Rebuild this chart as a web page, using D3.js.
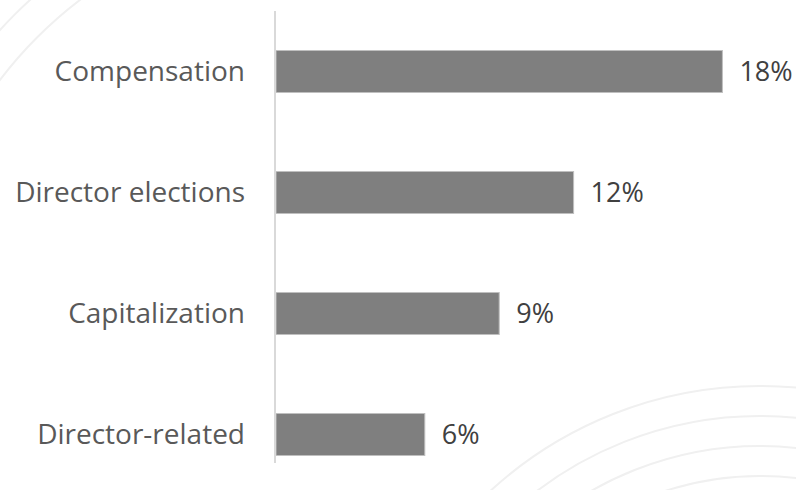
<!DOCTYPE html>
<html>
<head>
<meta charset="utf-8">
<script src="https://cdn.jsdelivr.net/npm/d3@7"></script>
<style>
  body { margin: 0; background: #fff; }
  svg text { font-family: "Open Sans", sans-serif; }
</style>
</head>
<body>
<div id="main"></div>
<script>
// chart values
const categories = ["Compensation", "Director elections", "Capitalization", "Director-related"];
const values = [18, 12, 9, 6];
const valueLabels = ["18%", "12%", "9%", "6%"];

const ctx = {
    width: 796,
    height: 490,
    axisX: 275,
    axisTop: 11,
    axisBottom: 463,
    fontSize: "28px"
};

function createViz() {
    const svg = d3.select("#main").append("svg")
        .attr("width", ctx.width)
        .attr("height", ctx.height);

    const defs = svg.append("defs");
    defs.append("clipPath").attr("id", "clip-tl")
        .append("rect").attr("x", 0).attr("y", 0).attr("width", 160).attr("height", 140);

    // faint decorative arcs in the background
    const tl = svg.append("g").attr("clip-path", "url(#clip-tl)")
        .attr("fill", "none").attr("stroke", "#f0f0f0").attr("stroke-width", 2);
    [414, 446].forEach(r => tl.append("circle").attr("cx", 330).attr("cy", 330).attr("r", r));
    const br = svg.append("g")
        .attr("fill", "none").attr("stroke", "#f0f0f0").attr("stroke-width", 2);
    [399, 369, 339, 309].forEach(r => br.append("circle").attr("cx", 760).attr("cy", 785).attr("r", r));

    const x = d3.scaleLinear().domain([0, 20]).range([276, 772]);
    const y = d3.scaleBand().domain(categories).range([11, 495])
        .paddingInner(0.653).paddingOuter(0.3265);

    // bars
    svg.selectAll(".bar")
        .data(values)
        .enter().append("rect")
        .attr("class", "bar")
        .attr("x", x(0))
        .attr("y", (d, i) => y(categories[i]))
        .attr("width", d => x(d) - x(0))
        .attr("height", y.bandwidth())
        .attr("fill", "#7f7f7f")
        .attr("stroke", "#bfbfbf")
        .attr("stroke-width", 1);

    // vertical axis line
    svg.append("line")
        .attr("x1", ctx.axisX).attr("x2", ctx.axisX)
        .attr("y1", ctx.axisTop).attr("y2", ctx.axisBottom)
        .attr("stroke", "#d9d9d9")
        .attr("stroke-width", 2);

    // category labels
    svg.selectAll(".cat")
        .data(categories)
        .enter().append("text")
        .attr("class", "cat")
        .attr("x", 245)
        .attr("y", d => y(d) + y.bandwidth() / 2)
        .attr("dy", "0.35em")
        .attr("text-anchor", "end")
        .attr("fill", "#595959")
        .style("font-size", ctx.fontSize)
        .text(d => d);

    // value labels
    svg.selectAll(".val")
        .data(values)
        .enter().append("text")
        .attr("class", "val")
        .attr("x", d => x(d) + 17)
        .attr("y", (d, i) => y(categories[i]) + y.bandwidth() / 2)
        .attr("dy", "0.35em")
        .attr("fill", "#404040")
        .style("font-size", "27px")
        .text((d, i) => valueLabels[i]);
}

createViz();
</script>
</body>
</html>
